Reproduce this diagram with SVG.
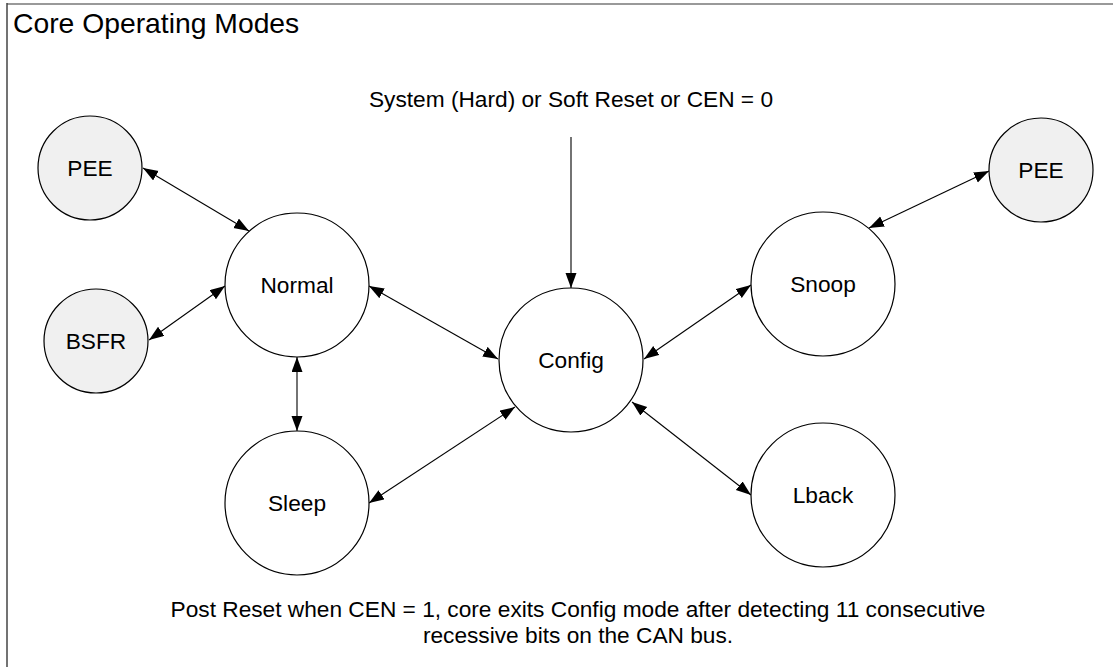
<svg xmlns="http://www.w3.org/2000/svg" width="1113" height="667" viewBox="0 0 1113 667">
<style>
text{font-family:"Liberation Sans",Arial,sans-serif;fill:#000}
.lbl{font-size:22.7px;text-anchor:middle}
.node{stroke:#000;stroke-width:1.2;fill:#fff}
.ext{fill:#f0f0f0}
.conn{stroke:#000;stroke-width:1.1;fill:none;marker-end:url(#ah)}
.both{marker-start:url(#ah)}
</style>
<defs>
<marker id="ah" markerUnits="userSpaceOnUse" markerWidth="16" markerHeight="12" refX="15" refY="5.5" orient="auto-start-reverse">
<path d="M0,0 L15,5.5 L0,11 z" fill="#000"/>
</marker>
</defs>
<rect width="1113" height="667" fill="#fff"/>
<g id="frame">
<line x1="7" y1="4" x2="1113" y2="4" stroke="#999" stroke-width="2"/>
<line x1="7" y1="3" x2="7" y2="667" stroke="#444" stroke-width="1.5"/>
<text x="13" y="33" style="font-size:28.3px">Core Operating Modes</text>
</g>
<g id="connectors">
<line class="conn" x1="571" y1="137" x2="571" y2="288"/>
<line class="conn both" x1="143" y1="168" x2="249" y2="231"/>
<line class="conn both" x1="149" y1="340" x2="225" y2="286"/>
<line class="conn both" x1="369" y1="286" x2="498" y2="359"/>
<line class="conn both" x1="297" y1="357" x2="297" y2="431"/>
<line class="conn both" x1="369" y1="503" x2="515" y2="407"/>
<line class="conn both" x1="644" y1="359" x2="751" y2="285"/>
<line class="conn both" x1="632" y1="402" x2="751" y2="495"/>
<line class="conn both" x1="869" y1="228" x2="989" y2="171"/>
</g>
<g id="pee-left"><circle class="node ext" cx="90" cy="168" r="52"/><text class="lbl" x="90" y="176">PEE</text></g>
<g id="bsfr"><circle class="node ext" cx="96" cy="341" r="52"/><text class="lbl" x="96" y="349">BSFR</text></g>
<g id="normal"><circle class="node" cx="297" cy="285" r="72"/><text class="lbl" x="297" y="293">Normal</text></g>
<g id="sleep"><circle class="node" cx="297" cy="503" r="72"/><text class="lbl" x="297" y="511">Sleep</text></g>
<g id="config"><circle class="node" cx="571" cy="360" r="72"/><text class="lbl" x="571" y="368">Config</text></g>
<g id="snoop"><circle class="node" cx="823" cy="284" r="72"/><text class="lbl" x="823" y="292">Snoop</text></g>
<g id="lback"><circle class="node" cx="823" cy="495" r="72"/><text class="lbl" x="823" y="503">Lback</text></g>
<g id="pee-right"><circle class="node ext" cx="1041" cy="170" r="52"/><text class="lbl" x="1041" y="178">PEE</text></g>
<g id="labels">
<text class="lbl" x="571" y="107">System (Hard) or Soft Reset or CEN = 0</text>
<text class="lbl" x="578" y="617">Post Reset when CEN = 1, core exits Config mode after detecting 11 consecutive</text>
<text class="lbl" x="578" y="643">recessive bits on the CAN bus.</text>
</g>
</svg>
